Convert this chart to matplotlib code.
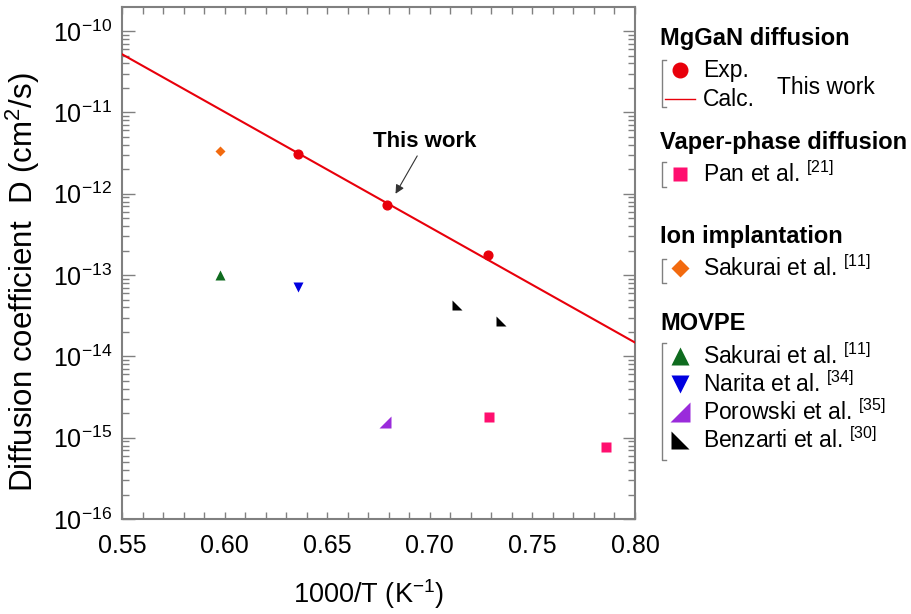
import matplotlib
matplotlib.use("Agg")

import matplotlib.pyplot as plt
from matplotlib.ticker import LogLocator, MultipleLocator, NullFormatter, FixedLocator

plt.rcParams["font.family"] = ["Liberation Sans", "DejaVu Sans"]
plt.rcParams["mathtext.default"] = "regular"

# Data (x = 1000/T in 1/K, D in cm^2/s)
exp_x = [0.636, 0.679, 0.7285]
exp_D = [3.05e-12, 7.2e-13, 1.77e-13]
calc_x = [0.55, 0.80]
calc_D = [5.2e-11, 1.48e-14]
pan_x = [0.7288, 0.7861]
pan_D = [1.78e-15, 7.7e-16]
ion_sakurai_x = [0.5978]
ion_sakurai_D = [3.4e-12]
mov_sakurai_x = [0.598]
mov_sakurai_D = [1.0e-13]
narita_x = [0.636]
narita_D = [7.2e-14]
porowski_x = [0.6784]
porowski_D = [1.58e-15]
benzarti_x = [0.7134, 0.7345]
benzarti_D = [4.3e-14, 2.73e-14]

x_ticks = [0.55, 0.60, 0.65, 0.70, 0.75, 0.80]
y_ticks = [1e-16, 1e-15, 1e-14, 1e-13, 1e-12, 1e-11, 1e-10]

RED = "#E8000B"
PINK = "#FF0F6F"
ORANGE = "#F26A0F"
GREEN = "#0F6B1F"
BLUE = "#0000E0"
PURPLE = "#9A2BDB"
GRAY = "#808080"

# right-angle triangles used by Porowski and Benzarti
TRI_LR = [(-1, -1), (1, -1), (1, 1)]
TRI_LL = [(-1, 1), (-1, -1), (1, -1)]

W, H = 911, 614
fig = plt.figure(figsize=(W / 100, H / 100), dpi=100)
ax = fig.add_axes([122 / W, 1 - 519 / H, (635 - 122) / W, (519 - 7) / H])

ax.plot(calc_x, calc_D, color=RED, lw=1.5, zorder=3)
ax.plot(exp_x, exp_D, "o", color=RED, ms=6.3, zorder=4)
ax.plot(pan_x, pan_D, "s", color=PINK, ms=6.8, mec="none")
ax.plot(ion_sakurai_x, ion_sakurai_D, "D", color=ORANGE, ms=5.4, mec="none")
ax.plot(mov_sakurai_x, mov_sakurai_D, "^", color=GREEN, ms=7.5, mec="none")
ax.plot(narita_x, narita_D, "v", color=BLUE, ms=7.5, mec="none")
ax.plot(porowski_x, porowski_D, marker=TRI_LR, ls="none", color=PURPLE, ms=8.5, mec="none")
ax.plot(benzarti_x, benzarti_D, marker=TRI_LL, ls="none", color="black", ms=6.7, mec="none")

ax.annotate("This work", xy=(0.6833, 1.0e-12), xytext=(0.6975, 4.4e-12),
            ha="center", va="center", fontsize=16, fontweight="bold",
            arrowprops=dict(arrowstyle="-|>", color="#333333", lw=0.8,
                            relpos=(0.45, 0.0), shrinkA=1, shrinkB=0,
                            mutation_scale=13))

ax.set_yscale("log")
ax.set_xlim(0.55, 0.80)
ax.set_ylim(1e-16, 1.98e-10)
ax.set_xticks(x_ticks)
ax.set_xticklabels([f"{v:.2f}" for v in x_ticks])
ax.xaxis.set_minor_locator(MultipleLocator(0.01))
ax.yaxis.set_major_locator(FixedLocator(y_ticks))
ax.yaxis.set_minor_locator(LogLocator(base=10, subs=range(2, 10), numticks=100))
ax.yaxis.set_minor_formatter(NullFormatter())

ax.tick_params(which="both", direction="in", top=True, right=True,
               color=GRAY, width=1.0, labelsize=18)
ax.tick_params(axis="x", which="both", length=5, pad=11)
ax.tick_params(axis="y", which="major", length=9, pad=7)
ax.tick_params(axis="y", which="minor", length=5)
for s in ax.spines.values():
    s.set_color(GRAY)
    s.set_linewidth(1.5)

ax.set_xlabel("1000/T (K$^{-1}$)", fontsize=19.5)
ax.xaxis.set_label_coords(0.48, -0.113)
ax.set_ylabel("Diffusion coefficient  D (cm$^2$/s)", fontsize=22.5)
ax.yaxis.set_label_coords(-0.155, 0.463)

# hand-made grouped legend on the right, in pixel coordinates
lax = fig.add_axes([0, 0, 1, 1])
lax.set_xlim(0, W)
lax.set_ylim(H, 0)
lax.axis("off")

title_kw = dict(fontsize=17, fontweight="bold", va="center", ha="left")
label_kw = dict(fontsize=16.5, va="center", ha="left")


def bracket(y0, y1, x=662):
    lax.plot([x + 4, x, x, x + 4], [y0, y0, y1, y1], color=GRAY, lw=1.0)


lax.text(660, 38, "MgGaN diffusion", **title_kw)
bracket(60, 107)
lax.plot(680, 70, "o", color=RED, ms=10.5)
lax.text(703, 71, "Exp.", **label_kw)
lax.plot([665, 695], [99, 99], color=RED, lw=1.0)
lax.text(703, 100, "Calc.", **label_kw)
lax.text(777, 87, "This work", **label_kw)

lax.text(660, 142, "Vaper-phase diffusion", **title_kw)
bracket(162, 187)
lax.plot(680, 174, "s", color=PINK, ms=10.5, mec="none")
lax.text(703, 174, "Pan et al. $^{[21]}$", **label_kw)

lax.text(660, 237, "Ion implantation", **title_kw)
bracket(259, 283)
lax.plot(680, 268, "D", color=ORANGE, ms=9.5, mec="none")
lax.text(703, 268, "Sakurai et al. $^{[11]}$", **label_kw)

lax.text(660, 324, "MOVPE", **title_kw)
bracket(343, 460)
movpe = [("^", GREEN, 12.5, "Sakurai et al. $^{[11]}$"),
         ("v", BLUE, 12.5, "Narita et al. $^{[34]}$"),
         (TRI_LR, PURPLE, 14, "Porowski et al. $^{[35]}$"),
         (TRI_LL, "black", 12.5, "Benzarti et al. $^{[30]}$")]
for i, (m, c, ms, lab) in enumerate(movpe):
    y = 356 + 28 * i
    lax.plot(680, y, marker=m, ls="none", color=c, ms=ms, mec="none")
    lax.text(703, y, lab, **label_kw)

fig.savefig("out.png", dpi=100)
